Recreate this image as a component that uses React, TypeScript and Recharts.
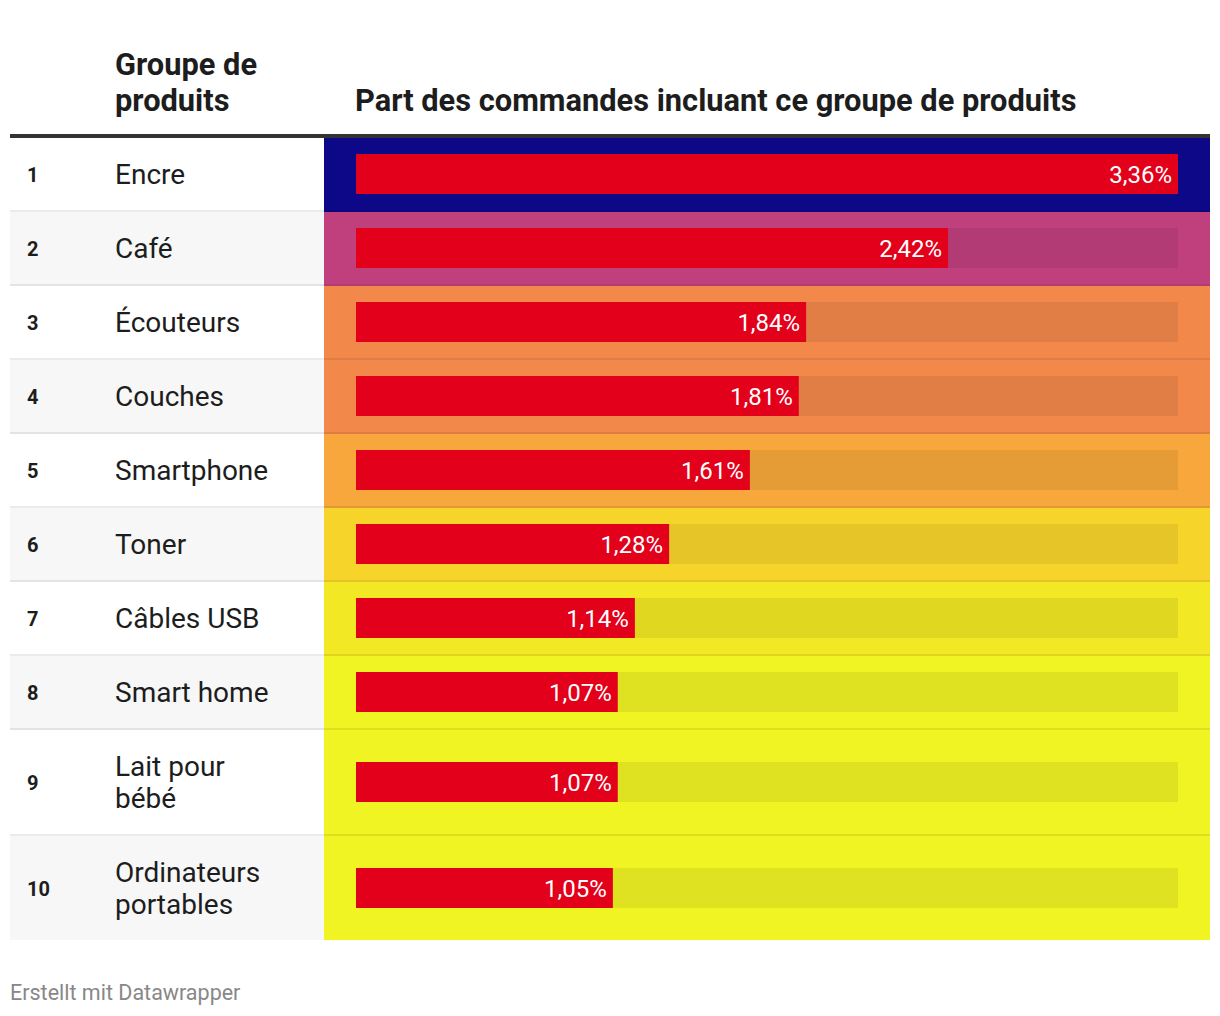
import React from 'react';
import { BarChart, Bar, XAxis, YAxis, LabelList } from 'recharts';

// ---- data ----
const ranks = [1, 2, 3, 4, 5, 6, 7, 8, 9, 10];
const productGroups = [
  'Encre',
  'Café',
  'Écouteurs',
  'Couches',
  'Smartphone',
  'Toner',
  'Câbles USB',
  'Smart home',
  'Lait pour\nbébé',
  'Ordinateurs\nportables',
];
const orderShares = [3.36, 2.42, 1.84, 1.81, 1.61, 1.28, 1.14, 1.07, 1.07, 1.05];
const headerLeftLines = ['Groupe de', 'produits'];
const headerRight = 'Part des commandes incluant ce groupe de produits';
const footerText = 'Erstellt mit Datawrapper';

// ---- styles ----
const rowColors = [
  '#0d0887',
  '#c0407e',
  '#f3884b',
  '#f3884b',
  '#f7a73b',
  '#f7d42a',
  '#f2e824',
  '#f0f423',
  '#f0f423',
  '#f0f423',
];
const FONT = 'Roboto, "Noto Sans", Arial, sans-serif';
const TEXT = '#1d1d1d';
const BAR_RED = '#e2001a';
const PAGE_LEFT = 10;
const TABLE_W = 1200;
const TABLE_TOP = 138;
const BASE_ROW_H = 72;
const LINE_H = 32;
const SEP_H = 2;
const LABEL_COL_W = 346; // from table left to start of bar track
const COLORED_LEFT = 314; // from table left to colored area
const RIGHT_PAD = 32;

// ---- derived rows ----
type Row = { rank: number; lines: string[]; value: number; top: number; h: number; center: number };
const rows: Row[] = [];
{
  let cursor = 0;
  productGroups.forEach((name, i) => {
    const lines = name.split('\n');
    const h = BASE_ROW_H + LINE_H * (lines.length - 1);
    rows.push({ rank: ranks[i], lines, value: orderShares[i], top: cursor, h, center: cursor + h / 2 });
    cursor += h + (i < productGroups.length - 1 ? SEP_H : 0);
  });
}
const tableH = rows[rows.length - 1].top + rows[rows.length - 1].h;
const maxShare = Math.max(...orderShares);
const chartData = rows.map((r) => ({ center: r.center, value: r.value, rank: r.rank }));

const fmt = (v: any) => `${Number(v).toFixed(2).replace('.', ',')}%`;

const RowTick = (props: any) => {
  const { y, payload } = props;
  const row = rows.find((r) => Math.abs(r.center - payload.value) < 0.01);
  if (!row) return null;
  const n = row.lines.length;
  const firstBaseline = y + 10 - ((n - 1) * LINE_H) / 2;
  return (
    <g>
      <text x={17} y={y + 7.5} fontSize={20} fontWeight={700} fill={TEXT} fontFamily={FONT}>
        {row.rank}
      </text>
      <text x={105} y={firstBaseline} fontSize={28} fill={TEXT} fontFamily={FONT}>
        {row.lines.map((l, i) => (
          <tspan key={i} x={105} dy={i === 0 ? 0 : LINE_H}>
            {l}
          </tspan>
        ))}
      </text>
    </g>
  );
};

export default function App() {
  return (
    <div style={{ position: 'absolute', left: 0, top: 0, width: 1220, height: 1016, background: '#fff', fontFamily: FONT }}>
      <svg width={1220} height={1016} style={{ position: 'absolute', left: 0, top: 0 }}>
        {/* header */}
        <text fontFamily={FONT} fontSize={30.8} fontWeight={700} fill={TEXT}>
          {headerLeftLines.map((l, i) => (
            <tspan key={i} x={PAGE_LEFT + 105} y={75 + i * 36}>
              {l}
            </tspan>
          ))}
        </text>
        <text x={PAGE_LEFT + 345} y={111} fontFamily={FONT} fontSize={30.8} fontWeight={700} fill={TEXT}>
          {headerRight}
        </text>
        <rect x={PAGE_LEFT} y={134} width={TABLE_W} height={4} fill="#333333" />
        {/* row backgrounds */}
        {rows.map((r, i) => {
          const nextTop = i < rows.length - 1 ? rows[i + 1].top : r.top + r.h;
          return (
            <g key={i}>
              <rect
                x={PAGE_LEFT}
                y={TABLE_TOP + r.top}
                width={COLORED_LEFT}
                height={nextTop - r.top}
                fill={i % 2 === 1 ? '#f7f7f7' : '#ffffff'}
              />
              <rect
                x={PAGE_LEFT + COLORED_LEFT}
                y={TABLE_TOP + r.top}
                width={TABLE_W - COLORED_LEFT}
                height={nextTop - r.top}
                fill={rowColors[i]}
              />
              {i < rows.length - 1 && (
                <rect x={PAGE_LEFT} y={TABLE_TOP + r.top + r.h} width={TABLE_W} height={SEP_H} fill="rgba(0,0,0,0.08)" />
              )}
            </g>
          );
        })}
        {/* footer */}
        <text x={PAGE_LEFT} y={1000} fontFamily={FONT} fontSize={21.5} fill="#888888">
          {footerText}
        </text>
      </svg>
      <div style={{ position: 'absolute', left: PAGE_LEFT, top: TABLE_TOP }}>
        <BarChart
          width={TABLE_W}
          height={tableH}
          data={chartData}
          layout="vertical"
          margin={{ top: 0, right: RIGHT_PAD, bottom: 0, left: 0 }}
        >
          <XAxis type="number" domain={[0, maxShare]} hide allowDataOverflow />
          <YAxis
            type="number"
            dataKey="center"
            domain={[0, tableH]}
            ticks={rows.map((r) => r.center)}
            interval={0}
            tick={<RowTick />}
            axisLine={false}
            tickLine={false}
            width={LABEL_COL_W}
            allowDataOverflow
          />
          <Bar
            dataKey="value"
            barSize={40}
            fill={BAR_RED}
            background={{ fill: 'rgba(0,0,0,0.07)' }}
            isAnimationActive={false}
          >
            <LabelList
              dataKey="value"
              position="insideRight"
              offset={6}
              fill="#ffffff"
              fontSize={24}
              fontFamily={FONT}
              formatter={fmt}
            />
          </Bar>
        </BarChart>
      </div>
    </div>
  );
}
